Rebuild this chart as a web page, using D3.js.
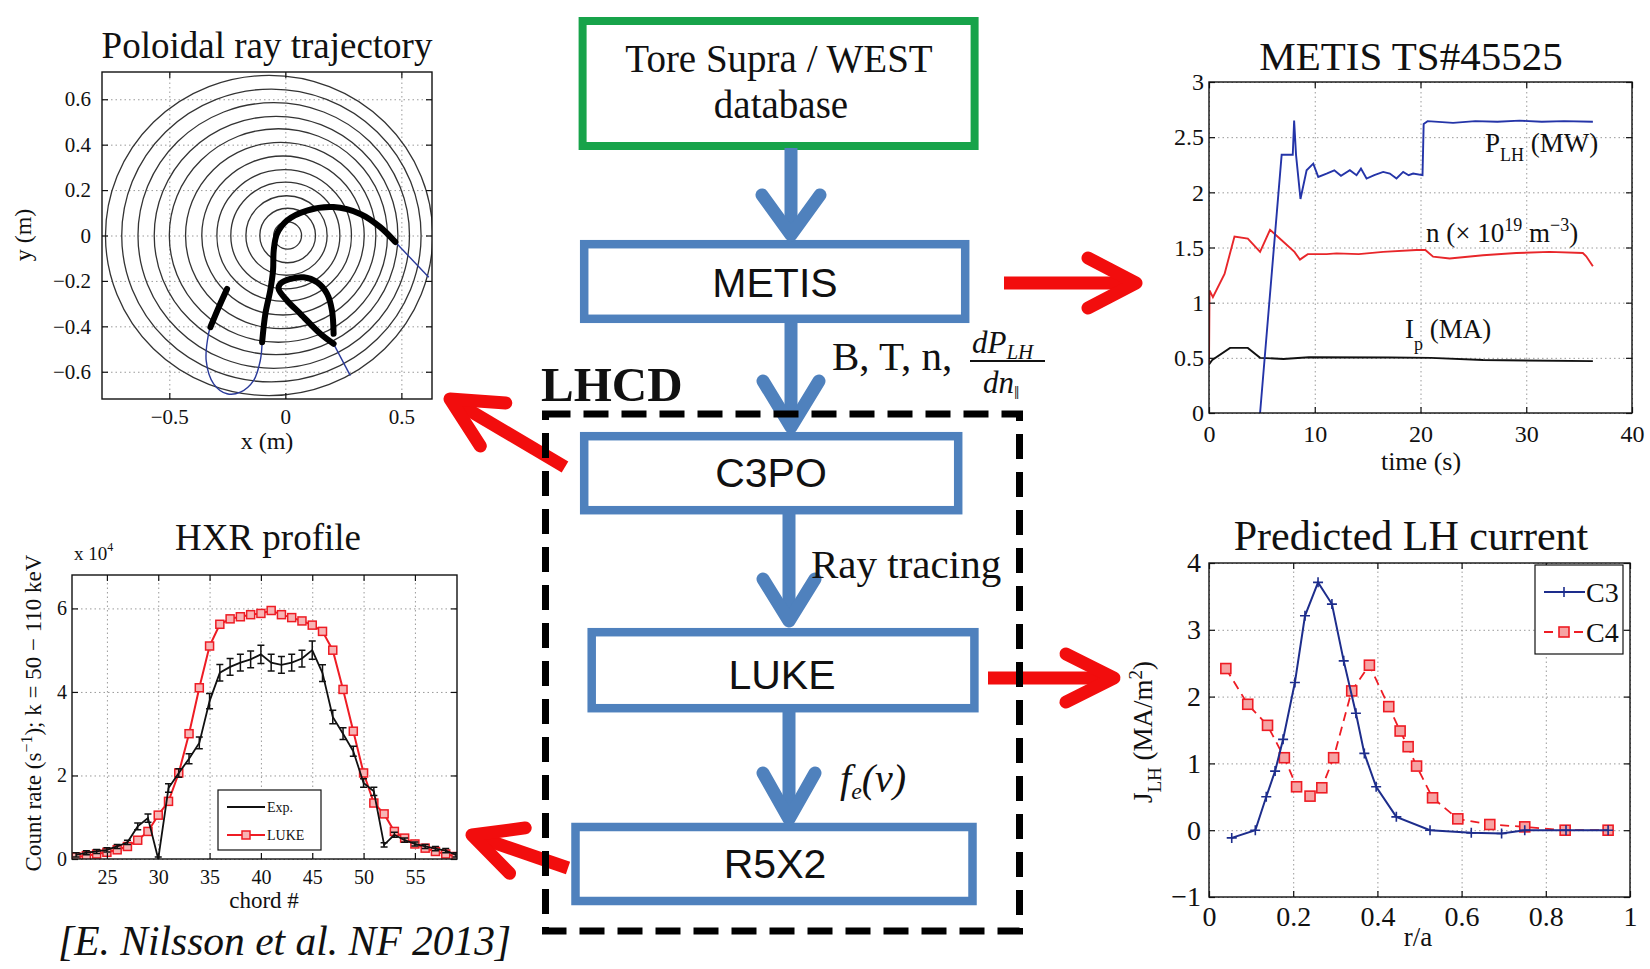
<!DOCTYPE html>
<html>
<head>
<meta charset="utf-8">
<script src="https://cdn.jsdelivr.net/npm/d3@7"></script>
<style>
  body { margin: 0; background: #fff; }
  svg text { font-family: "Liberation Serif", "Times New Roman", serif; fill: #111; }
  .sans { font-family: "Liberation Sans", Arial, sans-serif; }
</style>
</head>
<body>
<svg id="fig" width="1650" height="969"></svg>
<script>
/* ---------- data ---------- */

// poloidal cross-section: flux surfaces (radius, centre x) in m
const fluxRadius = [0.06, 0.12, 0.175, 0.235, 0.29, 0.35, 0.41, 0.47, 0.525, 0.585, 0.645, 0.705];
const fluxCenter = [0.01, 0.01, 0.005, 0.0, -0.005, -0.01, -0.02, -0.03, -0.04, -0.05, -0.06, -0.07];

// ray trajectories (x, y) in m; thin = weak absorption, thick = absorbed
const rayAThin1 = [[0.618, -0.184], [0.474, -0.029]];
const rayAThick1 = [[0.474, -0.029], [0.409, 0.037], [0.323, 0.095], [0.208, 0.125], [0.093, 0.110],
  [0.007, 0.066], [-0.036, 0.007], [-0.050, -0.066], [-0.053, -0.154], [-0.065, -0.242],
  [-0.086, -0.345], [-0.100, -0.470]];
const rayAThin2 = [[-0.100, -0.470], [-0.108, -0.551], [-0.137, -0.639], [-0.194, -0.690],
  [-0.251, -0.697], [-0.309, -0.653], [-0.341, -0.551], [-0.331, -0.433], [-0.323, -0.404]];
const rayAThick2 = [[-0.323, -0.404], [-0.287, -0.316], [-0.251, -0.235]];
const rayBThin = [[0.280, -0.617], [0.208, -0.477]];
const rayBThick = [[0.208, -0.477], [0.151, -0.433], [0.065, -0.345], [0.007, -0.286], [-0.029, -0.235],
  [-0.022, -0.213], [0.022, -0.191], [0.079, -0.184], [0.137, -0.206], [0.180, -0.257],
  [0.201, -0.330], [0.208, -0.433]];

// METIS TS#45525 time traces
const timePLH = [4.83, 6.87, 7.92, 8.05, 8.23, 8.65, 9.23, 9.86, 10.33, 11.12, 11.85, 12.48, 13.32, 13.95,
  14.37, 14.9, 15.63, 16.47, 17.1, 17.73, 18.36, 18.88, 19.3, 20.19, 20.3, 20.67, 23.08, 25.18, 27.27,
  29.37, 31.47, 33.57, 36.3];
const pLH = [0, 2.34, 2.34, 2.65, 2.34, 1.94, 2.2, 2.26, 2.14, 2.17, 2.2, 2.15, 2.2, 2.155, 2.215,
  2.125, 2.155, 2.185, 2.17, 2.125, 2.185, 2.155, 2.17, 2.155, 2.62, 2.645, 2.63, 2.645, 2.64, 2.65, 2.64, 2.645, 2.64];
const timeN = [0, 0.05, 0.37, 1.47, 2.41, 3.67, 4.83, 5.77, 6.82, 8.08, 8.6, 9.34, 11.12, 12.06, 14.16,
  16.47, 19.6, 20.46, 21.19, 22.76, 25.91, 29.06, 32.2, 35.35, 35.67, 36.3];
const nDensity = [0.45, 1.11, 1.05, 1.26, 1.6, 1.58, 1.46, 1.66, 1.57, 1.46, 1.39, 1.44, 1.44, 1.447,
  1.44, 1.46, 1.477, 1.477, 1.417, 1.40, 1.43, 1.45, 1.46, 1.45, 1.42, 1.33];
const timeIp = [0, 0.31, 1.99, 3.67, 4.83, 7.03, 9.44, 17.1, 20.98, 25.91, 36.3];
const ipCurrent = [0.44, 0.48, 0.59, 0.59, 0.5, 0.49, 0.505, 0.503, 0.5, 0.48, 0.47];

// HXR profile (x 10^4 counts/s)
const chords = [22, 23, 24, 25, 26, 27, 28, 29, 30, 31, 32, 33, 34, 35, 36, 37, 38, 39, 40,
  41, 42, 43, 44, 45, 46, 47, 48, 49, 50, 51, 52, 53, 54, 55, 56, 57, 58, 59];
const hxrExp = [0.10, 0.15, 0.18, 0.22, 0.30, 0.40, 0.78, 0.98, 0.00, 1.70, 2.06, 2.40, 2.78, 3.78,
  4.46, 4.60, 4.70, 4.78, 4.90, 4.70, 4.65, 4.70, 4.80, 5.00, 4.45, 3.40, 3.00, 2.58, 1.82, 1.62,
  0.34, 0.58, 0.45, 0.36, 0.30, 0.25, 0.20, 0.10];
const hxrErr = [0.05, 0.05, 0.05, 0.05, 0.05, 0.05, 0.08, 0.1, 0.05, 0.1, 0.1, 0.12, 0.14, 0.18,
  0.2, 0.2, 0.2, 0.2, 0.22, 0.2, 0.2, 0.2, 0.2, 0.22, 0.2, 0.16, 0.14, 0.12, 0.1, 0.1,
  0.05, 0.06, 0.05, 0.05, 0.05, 0.05, 0.05, 0.05];
const hxrLuke = [0.05, 0.08, 0.12, 0.16, 0.22, 0.30, 0.45, 0.66, 1.05, 1.38, 2.06, 3.00, 4.10, 5.10,
  5.62, 5.75, 5.80, 5.85, 5.88, 5.95, 5.85, 5.78, 5.70, 5.60, 5.45, 5.00, 4.06, 3.06, 2.06, 1.34,
  1.08, 0.66, 0.50, 0.36, 0.26, 0.18, 0.12, 0.06];

// predicted LH current density (MA/m^2)
const rC3 = [0.054, 0.11, 0.136, 0.157, 0.176, 0.204, 0.228, 0.259, 0.292, 0.32, 0.349, 0.369, 0.397,
  0.445, 0.525, 0.623, 0.695, 0.75, 0.848, 0.948];
const jC3 = [-0.115, 0, 0.5, 0.885, 1.36, 2.21, 3.21, 3.71, 3.385, 2.535, 1.75, 1.15, 0.65,
  0.2, 0, -0.04, -0.05, 0, 0, 0];
const rC4 = [0.04, 0.092, 0.139, 0.179, 0.208, 0.24, 0.268, 0.296, 0.339, 0.381, 0.427, 0.454, 0.473,
  0.493, 0.531, 0.591, 0.667, 0.75, 0.846, 0.948];
const jC4 = [2.42, 1.885, 1.57, 1.085, 0.65, 0.51, 0.635, 1.085, 2.085, 2.47, 1.85, 1.485, 1.25,
  0.96, 0.485, 0.17, 0.085, 0.05, 0, 0];

/* ---------- helpers ---------- */
const svg = d3.select('#fig');
const RED = '#f20d0d';
const BOXBLUE = '#4f81bd';
const fmt = (d) => (d < 0 ? '\u2212' : '') + Math.abs(d);
const zip = (a, b) => a.map((v, i) => [v, b[i]]);

/* matlab-like axes: grid, clipped plot layer, box with inward ticks */
function panel(o) {
  const x = d3.scaleLinear().domain(o.xDomain).range([0, o.w]);
  const y = d3.scaleLinear().domain(o.yDomain).range([o.h, 0]);
  const g = svg.append('g').attr('transform', `translate(${o.left},${o.top})`);

  g.append('rect').attr('width', o.w).attr('height', o.h).attr('fill', '#fff');

  const gx = g.append('g').attr('transform', `translate(0,${o.h})`)
    .call(d3.axisBottom(x).tickValues(o.xTicks).tickSize(-o.h).tickFormat(''));
  const gy = g.append('g')
    .call(d3.axisLeft(y).tickValues(o.yTicks).tickSize(-o.w).tickFormat(''));
  [gx, gy].forEach((s) => {
    s.select('.domain').remove();
    s.selectAll('line').attr('stroke', '#9a9a9a').attr('stroke-dasharray', '1.5,3');
  });

  g.append('clipPath').attr('id', 'clip-' + o.id)
    .append('rect').attr('width', o.w).attr('height', o.h);
  const plot = g.append('g').attr('clip-path', `url(#clip-${o.id})`);

  const axes = g.append('g');
  const tl = 6;
  const styleAxis = (s) => {
    s.select('.domain').remove();
    s.selectAll('line').attr('stroke', '#111').attr('stroke-width', 1.2);
    s.attr('font-family', '"Liberation Serif", serif').attr('font-size', o.fs);
    s.selectAll('text').attr('fill', '#222');
  };
  axes.append('g').attr('transform', `translate(0,${o.h})`)
    .call(d3.axisBottom(x).tickValues(o.xTicks).tickSize(-tl).tickPadding(o.xPad).tickFormat(fmt))
    .call(styleAxis);
  axes.append('g')
    .call(d3.axisLeft(y).tickValues(o.yTicks).tickSize(-tl).tickPadding(o.yPad).tickFormat(fmt))
    .call(styleAxis);
  axes.append('g')
    .call(d3.axisTop(x).tickValues(o.xTicks).tickSize(-tl).tickFormat(''))
    .call(styleAxis);
  axes.append('g').attr('transform', `translate(${o.w},0)`)
    .call(d3.axisRight(y).tickValues(o.yTicks).tickSize(-tl).tickFormat(''))
    .call(styleAxis);
  axes.append('rect').attr('width', o.w).attr('height', o.h)
    .attr('fill', 'none').attr('stroke', '#111').attr('stroke-width', 1.4);

  return { g, plot, axes, x, y };
}

function text(parent, x, y, str, size, opts = {}) {
  const t = parent.append('text').attr('x', x).attr('y', y).attr('font-size', size)
    .attr('text-anchor', opts.anchor || 'middle').text(str);
  if (opts.italic) t.attr('font-style', 'italic');
  if (opts.bold) t.attr('font-weight', 'bold');
  if (opts.sans) t.attr('class', 'sans');
  if (opts.rotate) t.attr('transform', `rotate(-90,${x},${y})`);
  return t;
}

/* arrow: straight shaft and an open chevron head */
function arrow(x1, y1, x2, y2, color, width, headLen, headHalf) {
  const dx = x2 - x1, dy = y2 - y1, L = Math.hypot(dx, dy);
  const ux = dx / L, uy = dy / L, px = -uy, py = ux;
  const bx = x2 - ux * headLen, by = y2 - uy * headLen;
  const g = svg.append('g').attr('stroke', color).attr('fill', 'none')
    .attr('stroke-width', width);
  g.append('line').attr('x1', x1).attr('y1', y1).attr('x2', x2 - ux * width * 0.4).attr('y2', y2 - uy * width * 0.4);
  g.append('path')
    .attr('d', d3.line()([[bx + px * headHalf, by + py * headHalf], [x2, y2], [bx - px * headHalf, by - py * headHalf]]))
    .attr('stroke-linecap', 'round').attr('stroke-linejoin', 'round');
}

/* ---------- Poloidal ray trajectory ---------- */
const pol = panel({
  id: 'pol', left: 102, top: 72, w: 330, h: 327,
  xDomain: [-0.79, 0.632], yDomain: [-0.72, 0.72],
  xTicks: [-0.5, 0, 0.5], yTicks: [-0.6, -0.4, -0.2, 0, 0.2, 0.4, 0.6],
  fs: 21, xPad: 10, yPad: 11,
});
pol.plot.selectAll('ellipse').data(zip(fluxRadius, fluxCenter)).join('ellipse')
  .attr('cx', (d) => pol.x(d[1]))
  .attr('cy', pol.y(0))
  .attr('rx', (d) => pol.x(d[1] + d[0]) - pol.x(d[1]))
  .attr('ry', (d) => pol.y(0) - pol.y(d[0]))
  .attr('fill', 'none').attr('stroke', '#333').attr('stroke-width', 1.3);
const rayLine = d3.line().x((d) => pol.x(d[0])).y((d) => pol.y(d[1])).curve(d3.curveCatmullRom);
[rayAThin1, rayAThin2, rayBThin].forEach((r) => {
  pol.plot.append('path').attr('d', rayLine(r)).attr('fill', 'none')
    .attr('stroke', '#2a3a9a').attr('stroke-width', 1.4);
});
[rayAThick1, rayAThick2, rayBThick].forEach((r) => {
  pol.plot.append('path').attr('d', rayLine(r)).attr('fill', 'none')
    .attr('stroke', '#000').attr('stroke-width', 6).attr('stroke-linecap', 'round');
});
text(svg, 267, 58, 'Poloidal ray trajectory', 37);
text(svg, 267, 449, 'x (m)', 24);
text(svg, 31, 235, 'y (m)', 24, { rotate: true });

/* ---------- METIS TS#45525 ---------- */
const met = panel({
  id: 'met', left: 1209, top: 82, w: 423, h: 331,
  xDomain: [0, 40], yDomain: [0, 3],
  xTicks: [0, 10, 20, 30, 40], yTicks: [0, 0.5, 1, 1.5, 2, 2.5, 3],
  fs: 24, xPad: 12, yPad: 5,
});
const metLine = d3.line().x((d) => met.x(d[0])).y((d) => met.y(d[1]));
[[timeIp, ipCurrent, '#111'], [timeN, nDensity, '#e8262a'], [timePLH, pLH, '#2434a8']].forEach(([t, v, c]) => {
  met.plot.append('path').attr('d', metLine(zip(t, v))).attr('fill', 'none')
    .attr('stroke', c).attr('stroke-width', 1.9);
});
text(svg, 1411, 70, 'METIS TS#45525', 41);
text(svg, 1421, 470, 'time (s)', 26);
{
  const t = text(svg, 1485, 152, 'P', 27, { anchor: 'start' });
  t.append('tspan').attr('font-size', 18).attr('dy', 9).text('LH');
  t.append('tspan').attr('dy', -9).text(' (MW)');
  const n = text(svg, 1426, 242, 'n (\u00d7 10', 27, { anchor: 'start' });
  n.append('tspan').attr('font-size', 18).attr('dy', -11).text('19');
  n.append('tspan').attr('dy', 11).text(' m');
  n.append('tspan').attr('font-size', 18).attr('dy', -11).text('\u22123');
  n.append('tspan').attr('dy', 11).text(')');
  const ip = text(svg, 1405, 338, 'I', 27, { anchor: 'start' });
  ip.append('tspan').attr('font-size', 18).attr('dy', 12).text('p');
  ip.append('tspan').attr('dy', -12).text(' (MA)');
}

/* ---------- HXR profile ---------- */
const hxr = panel({
  id: 'hxr', left: 72, top: 575, w: 385, h: 284,
  xDomain: [21.6, 59.1], yDomain: [0, 6.8],
  xTicks: [25, 30, 35, 40, 45, 50, 55], yTicks: [0, 2, 4, 6],
  fs: 20, xPad: 11, yPad: 5,
});
const hxrLine = d3.line().x((d) => hxr.x(d[0])).y((d) => hxr.y(d[1]));
hxr.plot.append('path').attr('d', hxrLine(zip(chords, hxrLuke))).attr('fill', 'none')
  .attr('stroke', '#ee1c24').attr('stroke-width', 2);
hxr.plot.selectAll('.luke').data(zip(chords, hxrLuke)).join('rect').attr('class', 'luke')
  .attr('x', (d) => hxr.x(d[0]) - 4).attr('y', (d) => hxr.y(d[1]) - 4)
  .attr('width', 8).attr('height', 8)
  .attr('fill', '#f7b5b5').attr('stroke', '#ee1c24').attr('stroke-width', 1.5);
const expPts = chords.map((c, i) => ({ c, v: hxrExp[i], e: hxrErr[i] }));
hxr.plot.selectAll('.err').data(expPts).join('path').attr('class', 'err')
  .attr('d', (d) => {
    const cx = hxr.x(d.c), y1 = hxr.y(d.v - d.e), y2 = hxr.y(d.v + d.e);
    return `M${cx},${y1}V${y2}M${cx - 3.5},${y1}H${cx + 3.5}M${cx - 3.5},${y2}H${cx + 3.5}`;
  })
  .attr('stroke', '#111').attr('stroke-width', 1.5).attr('fill', 'none');
hxr.plot.append('path').attr('d', hxrLine(zip(chords, hxrExp))).attr('fill', 'none')
  .attr('stroke', '#111').attr('stroke-width', 1.8);
{
  const lg = hxr.axes.append('g').attr('transform', `translate(${218 - 72},${790 - 575})`);
  lg.append('rect').attr('width', 103).attr('height', 60).attr('fill', '#fff')
    .attr('stroke', '#111').attr('stroke-width', 1.2);
  lg.append('line').attr('x1', 9).attr('x2', 47).attr('y1', 17).attr('y2', 17)
    .attr('stroke', '#111').attr('stroke-width', 1.8);
  text(lg, 49, 22, 'Exp.', 14, { anchor: 'start' });
  lg.append('line').attr('x1', 9).attr('x2', 47).attr('y1', 45).attr('y2', 45)
    .attr('stroke', '#ee1c24').attr('stroke-width', 1.8);
  lg.append('rect').attr('x', 24).attr('y', 41).attr('width', 8).attr('height', 8)
    .attr('fill', '#f7b5b5').attr('stroke', '#ee1c24').attr('stroke-width', 1.5);
  text(lg, 49, 50, 'LUKE', 14, { anchor: 'start' });
}
text(svg, 268, 550, 'HXR profile', 37);
text(svg, 264, 908, 'chord #', 23);
{
  const yl = text(svg, 41, 713, 'Count rate (s', 23, { rotate: true });
  yl.append('tspan').attr('font-size', 16).attr('dy', -9).text('\u22121');
  yl.append('tspan').attr('dy', 9).text('); k = 50 \u2212 110 keV');
  const ex = text(svg, 74, 560, 'x 10', 19, { anchor: 'start' });
  ex.append('tspan').attr('font-size', 12).attr('dy', -9).text('4');
}
text(svg, 58, 955, '[E. Nilsson et al. NF 2013]', 41.5, { anchor: 'start', italic: true });

/* ---------- Predicted LH current ---------- */
const lh = panel({
  id: 'lh', left: 1209, top: 563, w: 421, h: 334,
  xDomain: [0, 1], yDomain: [-1, 4],
  xTicks: [0, 0.2, 0.4, 0.6, 0.8, 1], yTicks: [-1, 0, 1, 2, 3, 4],
  fs: 28, xPad: 9, yPad: 8,
});
const lhLine = d3.line().x((d) => lh.x(d[0])).y((d) => lh.y(d[1]));
lh.plot.append('path').attr('d', lhLine(zip(rC4, jC4))).attr('fill', 'none')
  .attr('stroke', '#ee1c24').attr('stroke-width', 1.8).attr('stroke-dasharray', '9,6');
lh.plot.selectAll('.c4').data(zip(rC4, jC4)).join('rect').attr('class', 'c4')
  .attr('x', (d) => lh.x(d[0]) - 5).attr('y', (d) => lh.y(d[1]) - 5)
  .attr('width', 10).attr('height', 10)
  .attr('fill', '#f6a3a3').attr('stroke', '#ee1c24').attr('stroke-width', 1.6);
lh.plot.append('path').attr('d', lhLine(zip(rC3, jC3))).attr('fill', 'none')
  .attr('stroke', '#1d2d8c').attr('stroke-width', 2);
lh.plot.selectAll('.c3').data(zip(rC3, jC3)).join('path').attr('class', 'c3')
  .attr('d', (d) => {
    const cx = lh.x(d[0]), cy = lh.y(d[1]);
    return `M${cx - 5},${cy}H${cx + 5}M${cx},${cy - 5}V${cy + 5}`;
  })
  .attr('stroke', '#1d2d8c').attr('stroke-width', 1.6);
{
  const lg = lh.axes.append('g').attr('transform', `translate(${1535 - 1209},${565 - 563})`);
  lg.append('rect').attr('width', 88).attr('height', 89).attr('fill', '#fff')
    .attr('stroke', '#111').attr('stroke-width', 1.2);
  lg.append('line').attr('x1', 9).attr('x2', 50).attr('y1', 27).attr('y2', 27)
    .attr('stroke', '#1d2d8c').attr('stroke-width', 2);
  lg.append('path').attr('d', 'M24,27H34M29,22V32').attr('stroke', '#1d2d8c').attr('stroke-width', 1.6);
  text(lg, 51, 37, 'C3', 28, { anchor: 'start' });
  lg.append('line').attr('x1', 9).attr('x2', 50).attr('y1', 67).attr('y2', 67)
    .attr('stroke', '#ee1c24').attr('stroke-width', 1.8).attr('stroke-dasharray', '9,6');
  lg.append('rect').attr('x', 24).attr('y', 62).attr('width', 10).attr('height', 10)
    .attr('fill', '#f6a3a3').attr('stroke', '#ee1c24').attr('stroke-width', 1.6);
  text(lg, 51, 77, 'C4', 28, { anchor: 'start' });
}
text(svg, 1411, 550, 'Predicted LH current', 42);
text(svg, 1418, 946, 'r/a', 27);
{
  const yl = text(svg, 1152, 732, 'J', 27, { rotate: true });
  yl.append('tspan').attr('font-size', 19).attr('dy', 9).text('LH');
  yl.append('tspan').attr('dy', -9).text(' (MA/m');
  yl.append('tspan').attr('font-size', 19).attr('dy', -10).text('2');
  yl.append('tspan').attr('dy', 10).text(')');
}

/* ---------- flowchart ---------- */
svg.append('rect').attr('x', 582.6).attr('y', 21).attr('width', 392).attr('height', 125)
  .attr('fill', '#fff').attr('stroke', '#17a34a').attr('stroke-width', 8);
text(svg, 779, 72, 'Tore Supra / WEST', 39);
text(svg, 781, 118, 'database', 39);

const boxes = [
  { label: 'METIS', x: 584.2, y: 244.2, w: 381, h: 74.6, tx: 775, ty: 297 },
  { label: 'C3PO', x: 584.2, y: 436.2, w: 374, h: 74, tx: 771, ty: 487 },
  { label: 'LUKE', x: 591.7, y: 632.2, w: 382.7, h: 76, tx: 782, ty: 689 },
  { label: 'R5X2', x: 575.5, y: 827, w: 397, h: 74, tx: 775, ty: 878 },
];
boxes.forEach((b) => {
  svg.append('rect').attr('x', b.x).attr('y', b.y).attr('width', b.w).attr('height', b.h)
    .attr('fill', '#fff').attr('stroke', BOXBLUE).attr('stroke-width', 8.5);
  text(svg, b.tx, b.ty, b.label, 41, { sans: true });
});

arrow(791, 148, 791, 235, BOXBLUE, 13, 40, 29);
arrow(791, 322, 791, 427, BOXBLUE, 13, 46, 28);
arrow(789, 513, 789, 621, BOXBLUE, 13, 42, 26);
arrow(789, 711, 789, 819, BOXBLUE, 13, 46, 26);

text(svg, 832, 370, 'B, T, n,', 41, { anchor: 'start' });
{
  const num = text(svg, 972, 353, 'dP', 31, { anchor: 'start', italic: true });
  num.append('tspan').attr('font-size', 21).attr('dy', 6).text('LH');
  svg.append('line').attr('x1', 970).attr('x2', 1045).attr('y1', 361).attr('y2', 361)
    .attr('stroke', '#111').attr('stroke-width', 2);
  const den = text(svg, 983, 393, 'dn', 31, { anchor: 'start', italic: true });
  den.append('tspan').attr('font-size', 19).attr('font-style', 'normal').attr('dy', 6).text('\u2016');
}
text(svg, 811, 578, 'Ray tracing', 41, { anchor: 'start' });
{
  const f = text(svg, 840, 792, 'f', 40, { anchor: 'start', italic: true });
  f.append('tspan').attr('font-size', 24).attr('dy', 7).text('e');
  f.append('tspan').attr('dy', -7).text('(v)');
}

// red arrows to the result panels
arrow(1004, 283, 1136, 283, RED, 13, 48, 25);
arrow(565, 467, 450, 399, RED, 13, 50, 25);
arrow(988, 678, 1114, 678, RED, 13, 48, 24);
arrow(568, 868, 472, 835, RED, 13, 48, 24);

// dashed LHCD frame, drawn on top of the arrows
svg.append('rect').attr('x', 545.5).attr('y', 414).attr('width', 474).attr('height', 517)
  .attr('fill', 'none').attr('stroke', '#000').attr('stroke-width', 7)
  .attr('stroke-dasharray', '25,13');
text(svg, 541, 401, 'LHCD', 49, { anchor: 'start', bold: true });
</script>
</body>
</html>
